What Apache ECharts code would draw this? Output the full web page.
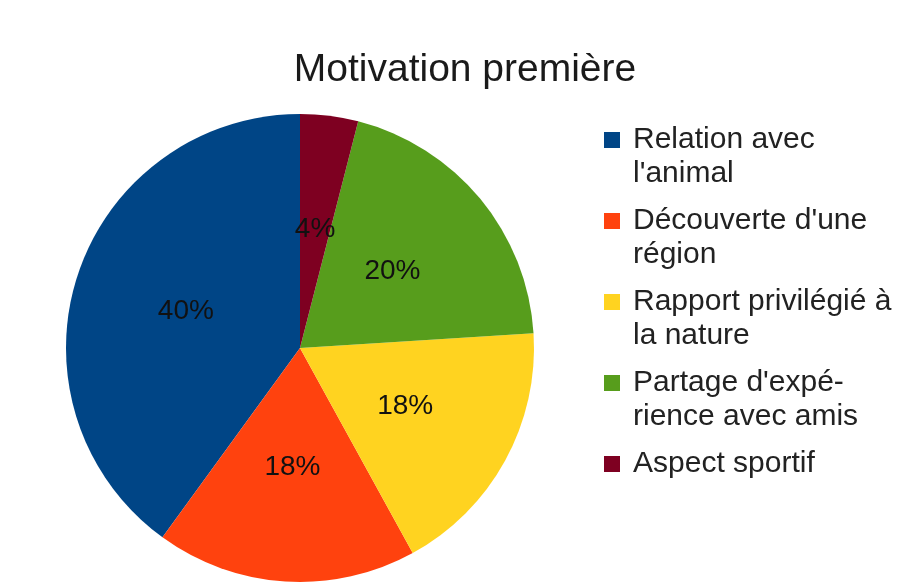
<!DOCTYPE html>
<html>
<head>
<meta charset="utf-8">
<script src="https://cdn.jsdelivr.net/npm/echarts@6/dist/echarts.min.js"></script>
<style>
  html, body { margin: 0; padding: 0; background: #fff; }
  #chart { width: 911px; height: 588px; }
</style>
</head>
<body>
<div id="chart"></div>
<script>
// données du graphique
const categories = [
  "Relation avec l'animal",
  "Découverte d'une région",
  "Rapport privilégié à la nature",
  "Partage d'expérience avec amis",
  "Aspect sportif"
];
// libellés de légende (avec retours à la ligne comme l'original)
const legendLabels = [
  "Relation avec\nl'animal",
  "Découverte d'une\nrégion",
  "Rapport privilégié à\nla nature",
  "Partage d'expé-\nrience avec amis",
  "Aspect sportif"
];
const values = [40, 18, 18, 20, 4];
const colors = ['#004586', '#ff420e', '#ffd320', '#579d1c', '#7e0021'];

const FONT = 'Liberation Sans';

const pieData = categories.map((name, i) => ({
  name: name,
  value: values[i],
  itemStyle: { color: colors[i] }
}));

// le carré de légende doit être en face de la 1re ligne :
// on ajoute une ligne vide au-dessus (et en dessous pour une seule ligne)
function legendText(name) {
  const label = legendLabels[categories.indexOf(name)];
  return label.indexOf('\n') >= 0 ? '\n' + label : '\n' + label + '\n';
}

const chart = echarts.init(document.getElementById('chart'));
const option = {
  backgroundColor: '#fff',
  animation: false,
  title: {
    text: 'Motivation première',
    left: 465,
    top: 51,
    padding: 0,
    textAlign: 'center',
    textStyle: {
      fontFamily: FONT,
      fontSize: 39,
      fontWeight: 'normal',
      color: '#1a1a1a'
    }
  },
  legend: {
    orient: 'vertical',
    left: 604,
    top: 89,
    padding: 0,
    itemGap: -21,
    itemWidth: 16,
    itemHeight: 16,
    icon: 'rect',
    data: categories,
    formatter: legendText,
    textStyle: {
      fontFamily: FONT,
      fontSize: 30,
      lineHeight: 34,
      padding: [0, 0, 0, 8],
      color: '#222'
    }
  },
  series: [
    {
      type: 'pie',
      center: [300, 348],
      radius: 234,
      startAngle: 90,
      clockwise: false,
      percentPrecision: 0,
      data: pieData,
      itemStyle: { borderWidth: 0 },
      emphasis: { disabled: true },
      label: {
        show: true,
        position: 'inside',
        formatter: '{d}%',
        fontFamily: FONT,
        fontSize: 28,
        color: '#111'
      },
      labelLine: { show: false }
    }
  ]
};
option && chart.setOption(option);
</script>
</body>
</html>
